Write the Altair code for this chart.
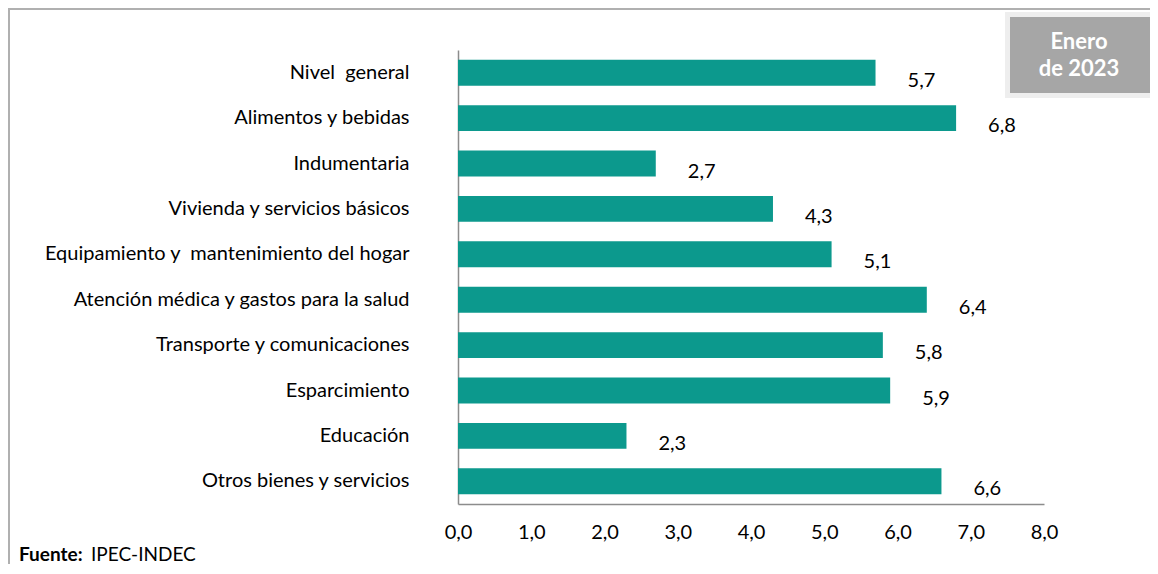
import altair as alt
import pandas as pd

categories = [
    "Nivel\u00a0 general",
    "Alimentos y bebidas",
    "Indumentaria",
    "Vivienda y servicios básicos",
    "Equipamiento y\u00a0 mantenimiento del hogar",
    "Atención médica y gastos para la salud",
    "Transporte y comunicaciones",
    "Esparcimiento",
    "Educación",
    "Otros bienes y servicios",
]
values = [5.7, 6.8, 2.7, 4.3, 5.1, 6.4, 5.8, 5.9, 2.3, 6.6]
x_ticks = [0, 1, 2, 3, 4, 5, 6, 7, 8]

FONT = "Lato"
BAR = "#0c998d"
FS = 20

df = pd.DataFrame({"cat": categories, "val": values})

W, H = 586, 454

x_enc = alt.X(
    "val:Q",
    scale=alt.Scale(domain=[0, 8], nice=False),
    axis=alt.Axis(
        values=x_ticks,
        title=None,
        grid=False,
        ticks=False,
        labelFlush=False,
        domainColor="#8c8c8c",
        domainWidth=1.5,
        labelFont=FONT,
        labelFontSize=FS,
        labelColor="#000000",
        labelPadding=18,
        labelExpr="replace(format(datum.value, '.1f'), '.', ',')",
    ),
)
y_enc = alt.Y(
    "cat:N",
    sort=categories,
    scale=alt.Scale(paddingInner=0.43, paddingOuter=0.215),
    axis=alt.Axis(
        title=None,
        ticks=False,
        domainColor="#8c8c8c",
        domainWidth=1.5,
        labelFont=FONT,
        labelFontSize=FS,
        labelColor="#000000",
        labelPadding=49,
        labelLimit=600,
    ),
)

bars = alt.Chart(df).mark_bar(color=BAR).encode(x=x_enc, y=y_enc)

labels = (
    alt.Chart(df)
    .transform_calculate(lbl="replace(format(datum.val, '.1f'), '.', ',')")
    .mark_text(align="left", baseline="middle", dx=32, dy=8, font=FONT, fontSize=FS, color="#000000")
    .encode(x="val:Q", y=alt.Y("cat:N", sort=categories), text="lbl:N")
)

# decorations
box_outer = alt.Chart(pd.DataFrame({"a": [0]})).mark_rect(
    color="#a6a6a6", stroke="#eeeeee", strokeWidth=5
).encode(x=alt.value(549.5), x2=alt.value(696.5), y=alt.value(-35.5), y2=alt.value(45.5))

box_text = alt.Chart(pd.DataFrame({"t": ["Enero", "de 2023"], "yy": [-1, 26]})).mark_text(
    align="center", baseline="alphabetic", font=FONT, fontSize=22, fontWeight="bold", color="#ffffff"
).encode(x=alt.value(621), y=alt.Y("yy:Q", scale=None), text="t:N")

fuente1 = alt.Chart(pd.DataFrame({"t": ["Fuente:"]})).mark_text(
    align="left", baseline="alphabetic", font=FONT, fontSize=19, fontWeight="bold", color="#000000"
).encode(x=alt.value(-439), y=alt.value(511), text="t:N")
fuente2 = alt.Chart(pd.DataFrame({"t": ["IPEC-INDEC"]})).mark_text(
    align="left", baseline="alphabetic", font=FONT, fontSize=19, color="#000000"
).encode(x=alt.value(-367), y=alt.value(511), text="t:N")

frame_top = alt.Chart(pd.DataFrame({"a": [0]})).mark_rule(color="#b0b0b0", strokeWidth=2).encode(
    x=alt.value(-450), x2=alt.value(700), y=alt.value(-41)
)
frame_left = alt.Chart(pd.DataFrame({"a": [0]})).mark_rule(color="#b0b0b0", strokeWidth=2).encode(
    x=alt.value(-449), y=alt.value(-42), y2=alt.value(530)
)

chart = (
    alt.layer(bars, labels, box_outer, box_text, fuente1, fuente2, frame_top, frame_left)
    .properties(
        width=W,
        height=H,
        autosize=alt.AutoSizeParams(type="none"),
        padding={"left": 450, "top": 42, "right": 106, "bottom": 60},
        background="#ffffff",
    )
    .configure_view(stroke=None)
)

chart.save("out.html", embed_options={"renderer": "svg", "actions": False})
